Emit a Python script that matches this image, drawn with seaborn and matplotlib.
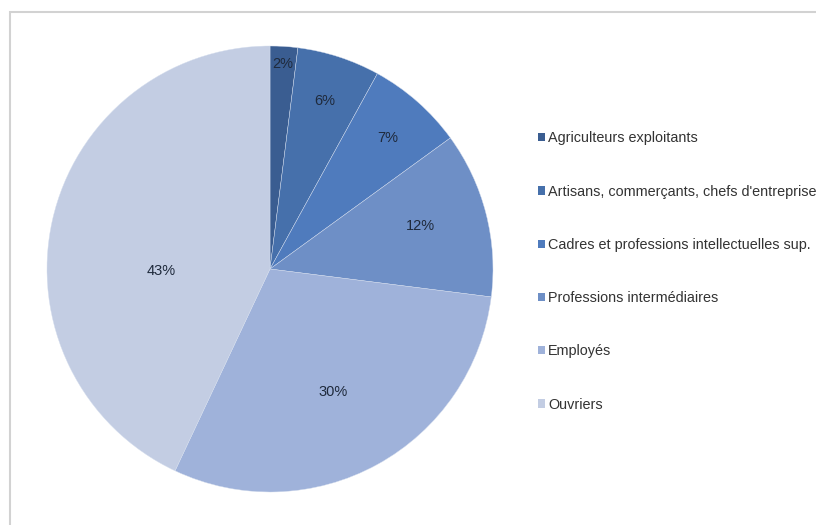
import matplotlib
matplotlib.use("Agg")
import matplotlib.pyplot as plt
from matplotlib.patches import Patch, Rectangle
import numpy as np
import seaborn as sns

# Répartition par catégorie socioprofessionnelle
categories = [
    "Agriculteurs exploitants",
    "Artisans, commerçants, chefs d'entreprise",
    "Cadres et professions intellectuelles sup.",
    "Professions intermédiaires",
    "Employés",
    "Ouvriers",
]
shares = [2, 6, 7, 12, 30, 43]
colors = ["#3a5d91", "#4670ab", "#4f7bbd", "#6e8fc6", "#9fb2da", "#c3cde3"]

sns.set_theme(style="white")
plt.rcParams["font.family"] = ["Liberation Sans", "DejaVu Sans"]

W, H = 816, 525
fig = plt.figure(figsize=(W / 100, H / 100), dpi=100)
fig.patch.set_facecolor("white")

# pie area: centre (270, 269) px, radius 223 px
cx, cy, r = 270, 269, 223
ax = fig.add_axes([(cx - r) / W, (H - cy - r) / H, 2 * r / W, 2 * r / H])
wedges, _ = ax.pie(
    shares,
    colors=colors,
    startangle=90,
    counterclock=False,
    radius=1.0,
    wedgeprops=dict(edgecolor="#d5deee", linewidth=0.3),
)
ax.set_xlim(-1, 1)
ax.set_ylim(-1, 1)
ax.set_axis_off()

# percentage labels inside the slices
label_radius = [0.92, 0.79, 0.79, 0.70, 0.62, 0.49]
angle_shift = [0, 0, -0.5, 1.5, -1.5, 13.5]
for w, v, rr, da in zip(wedges, shares, label_radius, angle_shift):
    ang = np.deg2rad((w.theta1 + w.theta2) / 2 + da)
    ax.text(rr * np.cos(ang), rr * np.sin(ang), f"{v}%",
            ha="center", va="center", fontsize=10.5, color="#1f2a3c")

# legend
handles = [Patch(facecolor=c, edgecolor="none") for c in colors]
fig.legend(
    handles, categories,
    loc="upper left",
    bbox_to_anchor=(532 / W, 1 - 125.5 / H),
    frameon=False,
    fontsize=10.4,
    labelcolor="#333333",
    handlelength=0.5,
    handleheight=0.5,
    handletextpad=0.2,
    labelspacing=2.72,
    borderaxespad=0,
)

# outer frame of the chart area
fig.add_artist(Rectangle((10 / W, -0.05), 1.2, 1 - 12 / H + 0.05,
                         transform=fig.transFigure, fill=False,
                         edgecolor="#d2d2d2", linewidth=1.5))

fig.savefig("out.png", dpi=100, facecolor="white")
